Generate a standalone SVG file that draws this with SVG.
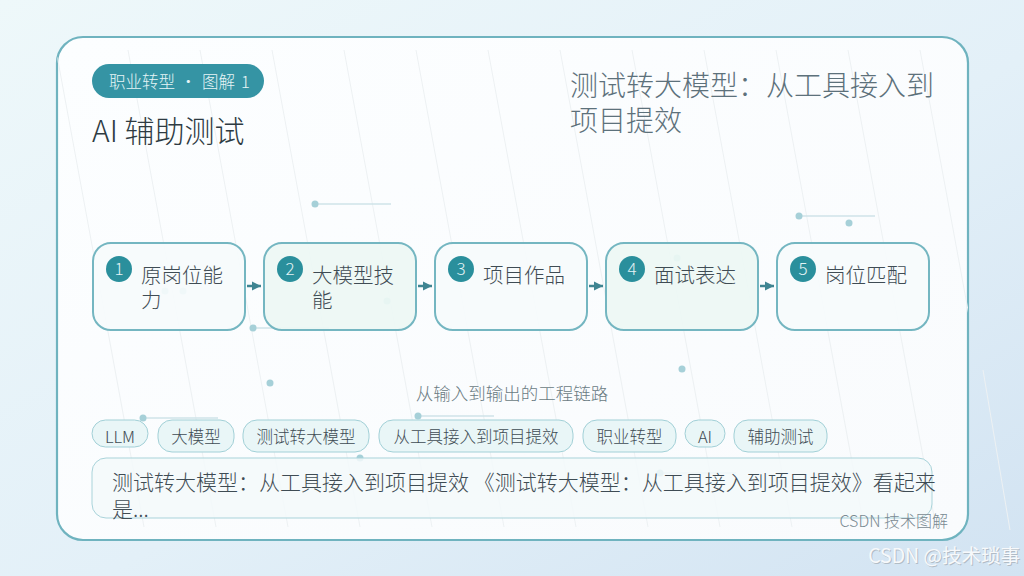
<svg xmlns="http://www.w3.org/2000/svg" width="1024" height="576" viewBox="0 0 1024 576">
<defs>
<linearGradient id="bg" x1="0" y1="0" x2="1" y2="1">
<stop offset="0" stop-color="#eef8fa"/>
<stop offset="0.55" stop-color="#e3f0f8"/>
<stop offset="1" stop-color="#d2e3f2"/>
</linearGradient>
<linearGradient id="card" x1="0" y1="0" x2="1" y2="1">
<stop offset="0" stop-color="#fcfeff"/>
<stop offset="1" stop-color="#f9fbfd"/>
</linearGradient>
<clipPath id="cardClip"><rect x="57" y="37" width="911" height="503" rx="26"/></clipPath>
<marker id="ah" viewBox="0 0 10 10" refX="10" refY="5" markerWidth="9" markerHeight="10" markerUnits="userSpaceOnUse" orient="auto">
<path d="M0,0 L10,5 L0,10 z" fill="#3f8592"/>
</marker>
<style>
text{font-family:"Noto Sans CJK SC","Noto Sans",sans-serif;}
.node{stroke:#74b6c1;stroke-width:2;}
.plain{fill:#f6fbfc;fill-opacity:0.92;}
.tint{fill:#edf7f4;fill-opacity:0.92;}
.num{fill:#2a8f9c;}
.numt{fill:#e3f3f5;font-size:17px;text-anchor:middle;font-weight:300;}
.lbl{fill:#3f4c54;font-size:20.5px;font-weight:300;}
.tag{fill:#e9f6f7;stroke:#a2d0d7;stroke-width:1;}
.tagt{fill:#3f4c54;font-size:16.5px;text-anchor:middle;font-weight:300;}
.dot{fill:#a6d0d8;}
.dl{stroke:#cfe3e8;stroke-width:1.5;}
.grid{stroke:#edf1f3;stroke-width:1;}
.conn{stroke:#3f8592;stroke-width:2.5;fill:none;}
</style>
</defs>
<rect width="1024" height="576" fill="url(#bg)"/>
<rect x="57" y="37" width="911" height="503" rx="26" fill="url(#card)" stroke="#6fb3bf" stroke-width="2.2"/>
<g clip-path="url(#cardClip)">
<path class="grid" d="M56,50 L144,527 M128,50 L216,527 M200,50 L288,527 M272,50 L360,527 M344,50 L432,527 M416,50 L504,527 M488,50 L576,527 M560,50 L648,527 M632,50 L720,527 M704,50 L792,527 M776,50 L864,527 M848,50 L936,527 M920,50 L1008,527"/>
</g>
<path class="grid" d="M983,370 L1010,530"/>
<g id="decor">
<line class="dl" x1="315" y1="204" x2="391" y2="204"/><circle class="dot" cx="315" cy="204" r="3.5"/>
<line class="dl" x1="799" y1="216" x2="875" y2="216"/><circle class="dot" cx="799" cy="216" r="3.5"/>
<circle class="dot" cx="849" cy="223" r="3.5"/>
<line class="dl" x1="253" y1="328" x2="329" y2="328"/><circle class="dot" cx="253" cy="328" r="3.5"/>
<circle class="dot" cx="270" cy="383" r="3.5"/>
<circle class="dot" cx="682" cy="369" r="3.5"/>
<line class="dl" x1="418" y1="416" x2="494" y2="416"/><circle class="dot" cx="418" cy="416" r="3.5"/>
<line class="dl" x1="143" y1="418" x2="218" y2="418"/><circle class="dot" cx="143" cy="418" r="3.5"/>
<circle class="dot" cx="360" cy="458" r="3.5"/>
<line class="dl" x1="660" y1="473" x2="736" y2="473"/><circle class="dot" cx="660" cy="473" r="3.5"/>
<circle class="dot" cx="165" cy="291" r="3.5"/><circle class="dot" cx="183" cy="291" r="3.5"/>
<circle class="dot" cx="387" cy="301" r="3.5"/><circle class="dot" cx="677" cy="258" r="3.5"/>
</g>
<g id="badge">
<rect x="92" y="64" width="172" height="34" rx="17" fill="#3594a4"/>
<text y="88" fill="#e6f4f6" font-size="16.5" font-weight="300"><tspan x="109">职业转型</tspan><tspan x="180">·</tspan><tspan x="202">图解</tspan><tspan x="241">1</tspan></text>
</g>
<g id="title">
<text x="92" y="142" fill="#2e3b42" font-size="30" font-weight="300">AI 辅助测试</text>
</g>
<g id="headline">
<text fill="#5d717b" font-size="28" font-weight="300"><tspan x="570" y="96">测试转大模型：从工具接入到</tspan><tspan x="570" y="131">项目提效</tspan></text>
</g>
<g id="connectors">
<line class="conn" x1="247" y1="286" x2="261" y2="286" marker-end="url(#ah)"/>
<line class="conn" x1="418" y1="286" x2="432" y2="286" marker-end="url(#ah)"/>
<line class="conn" x1="589" y1="286" x2="603" y2="286" marker-end="url(#ah)"/>
<line class="conn" x1="760" y1="286" x2="774" y2="286" marker-end="url(#ah)"/>
</g>
<g id="node1">
<rect class="node plain" x="93" y="243" width="152" height="87" rx="18"/>
<circle class="num" cx="119" cy="269" r="13"/><text class="numt" x="119" y="275">1</text>
<text class="lbl"><tspan x="141" y="283">原岗位能</tspan><tspan x="141" y="308">力</tspan></text>
</g>
<g id="node2">
<rect class="node tint" x="264" y="243" width="152" height="87" rx="18"/>
<circle class="num" cx="290" cy="269" r="13"/><text class="numt" x="290" y="275">2</text>
<text class="lbl"><tspan x="312" y="283">大模型技</tspan><tspan x="312" y="308">能</tspan></text>
</g>
<g id="node3">
<rect class="node plain" x="435" y="243" width="152" height="87" rx="18"/>
<circle class="num" cx="461" cy="269" r="13"/><text class="numt" x="461" y="275">3</text>
<text class="lbl" x="483" y="283">项目作品</text>
</g>
<g id="node4">
<rect class="node tint" x="606" y="243" width="152" height="87" rx="18"/>
<circle class="num" cx="632" cy="269" r="13"/><text class="numt" x="632" y="275">4</text>
<text class="lbl" x="654" y="283">面试表达</text>
</g>
<g id="node5">
<rect class="node plain" x="777" y="243" width="152" height="87" rx="18"/>
<circle class="num" cx="803" cy="269" r="13"/><text class="numt" x="803" y="275">5</text>
<text class="lbl" x="825" y="283">岗位匹配</text>
</g>
<g id="subtitle">
<text x="512" y="400" fill="#6a7b83" font-size="17.5" font-weight="300" text-anchor="middle">从输入到输出的工程链路</text>
</g>
<g id="tags">
<rect class="tag" x="92" y="420" width="56" height="27" rx="13.5"/><text class="tagt" x="120" y="443">LLM</text>
<rect class="tag" x="158" y="420" width="76" height="32" rx="14"/><text class="tagt" x="196" y="443">大模型</text>
<rect class="tag" x="243" y="420" width="126" height="32" rx="14"/><text class="tagt" x="306" y="443">测试转大模型</text>
<rect class="tag" x="379" y="420" width="194" height="32" rx="14"/><text class="tagt" x="476" y="443">从工具接入到项目提效</text>
<rect class="tag" x="583" y="420" width="93" height="32" rx="14"/><text class="tagt" x="629.5" y="443">职业转型</text>
<rect class="tag" x="685" y="420" width="40" height="27" rx="13.5"/><text class="tagt" x="705" y="443">AI</text>
<rect class="tag" x="734" y="420" width="93" height="32" rx="14"/><text class="tagt" x="780.5" y="443">辅助测试</text>
</g>
<g id="summary">
<rect x="92" y="458" width="840" height="60" rx="14" fill="#f3f9fa" fill-opacity="0.85" stroke="#a9d3da" stroke-width="1"/>
<text fill="#3f4c54" font-size="21" font-weight="300"><tspan x="112" y="490">测试转大模型：从工具接入到项目提效 《测试转大模型：从工具接入到项目提效》看起来</tspan><tspan x="112" y="517">是...</tspan></text>
</g>
<g id="footer">
<text x="948" y="527" fill="#7a8a92" font-size="16" font-weight="300" text-anchor="end">CSDN 技术图解</text>
<text x="1021" y="564" fill="#a9b2ba" fill-opacity="0.8" font-size="19.5" text-anchor="end">CSDN @技术琐事</text>
<text x="1020" y="563" fill="#f7f9fb" font-size="19.5" text-anchor="end">CSDN @技术琐事</text>
</g>
</svg>
